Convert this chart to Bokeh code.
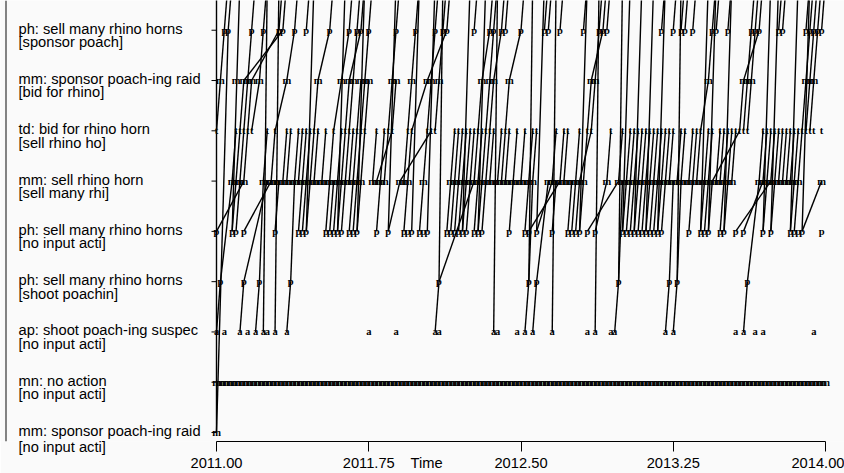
from bokeh.plotting import figure
from bokeh.models import FixedTicker, LinearAxis, Range1d
from bokeh.core.properties import value
from bokeh.embed import file_html
from bokeh.resources import INLINE

# ---------------- data ----------------
label_line1 = ["ph: sell many rhino horns", "mm: sponsor poach-ing raid", "td: bid for rhino horn",
               "mm: sell rhino horn", "ph: sell many rhino horns", "ph: sell many rhino horns",
               "ap: shoot poach-ing suspec", "mn: no action", "mm: sponsor poach-ing raid"]
label_line2 = ["[sponsor poach]", "[bid for rhino]", "[sell rhino ho]", "[sell many rhi]",
               "[no input acti]", "[shoot poachin]", "[no input acti]", "[no input acti]",
               "[no input acti]"]
row_symbol = ["p", "m", "t", "m", "p", "p", "a", "m", "m"]

# event weeks (week index since 2011.00, 52 weeks per year) for rows 1..9 (top to bottom)
weeks_r1 = [2, 3, 9, 12, 16, 17, 20, 23, 29, 34, 36, 37, 39, 46, 51, 56, 58, 59, 66, 70, 71, 73, 74,
            78, 84, 85, 88, 94, 98, 99, 100, 114, 117, 119, 120, 122, 127, 128, 131, 137, 138, 139,
            144, 145, 151, 152, 153, 154, 155]
weeks_r2 = [1, 5, 7, 8, 9, 11, 18, 26, 32, 34, 35, 37, 38, 39, 45, 46, 50, 54, 55, 57, 68, 70, 71,
            75, 96, 97, 126, 135, 136, 137, 151, 152, 153]
weeks_r3 = [0, 5, 6, 7, 8, 9, 13, 15, 18, 19, 21, 22, 23, 24, 25, 26, 28, 30, 32, 33, 34, 35, 36, 37,
            38, 41, 43, 44, 45, 49, 50, 54, 55, 56, 61, 62, 63, 64, 65, 66, 67, 68, 69, 70, 71, 73,
            74, 75, 77, 79, 81, 82, 87, 89, 90, 93, 95, 96, 101, 104, 106, 107, 108, 109, 110, 111,
            112, 113, 114, 115, 116, 117, 119, 120, 122, 123, 124, 126, 127, 129, 130, 131, 132, 133,
            134, 135, 136, 140, 141, 142, 143, 144, 145, 146, 147, 148, 149, 150, 151, 152, 153, 155]
weeks_r4 = [4, 5, 6, 7, 12, 13, 14, 15, 16, 17, 18, 19, 20, 21, 22, 23, 24, 25, 26, 27, 28, 29, 30,
            31, 32, 33, 34, 35, 36, 37, 40, 41, 42, 43, 47, 48, 49, 53, 60, 61, 62, 63, 64, 65, 66,
            67, 68, 69, 70, 71, 72, 73, 74, 75, 76, 77, 78, 79, 80, 81, 85, 86, 87, 88, 89, 90, 91,
            92, 93, 94, 100, 103, 104, 105, 106, 107, 108, 109, 110, 111, 112, 113, 114, 115, 116,
            117, 118, 119, 120, 121, 122, 123, 124, 125, 126, 127, 128, 129, 130, 131, 132, 139, 140,
            141, 142, 143, 144, 145, 146, 147, 148, 149, 155]
weeks_r5 = [0, 4, 5, 7, 15, 21, 22, 23, 28, 29, 30, 31, 32, 34, 35, 36, 41, 44, 48, 49, 50, 52, 53,
            54, 59, 60, 61, 62, 63, 64, 66, 67, 68, 75, 79, 80, 82, 86, 90, 91, 92, 93, 95, 97, 104,
            105, 106, 107, 108, 109, 110, 111, 112, 113, 114, 121, 124, 125, 126, 129, 130, 133, 135,
            140, 142, 147, 148, 149, 150, 155]
weeks_r6 = [1, 7, 11, 19, 57, 80, 82, 103, 116, 118, 136]
weeks_r7 = [0, 2, 6, 8, 10, 12, 13, 15, 18, 39, 46, 56, 57, 71, 72, 77, 79, 81, 86, 95, 97, 101, 102,
            115, 117, 133, 135, 138, 140, 153]
weeks_r8 = [0, 1, 2, 3, 4, 5, 6, 7, 8, 9, 10, 11, 12, 13, 14, 15, 16, 17, 18, 19, 20, 21, 22, 23, 24,
            25, 26, 27, 28, 29, 30, 31, 32, 33, 34, 35, 36, 37, 38, 39, 40, 41, 42, 43, 44, 45, 46,
            47, 48, 49, 50, 51, 52, 53, 54, 55, 56, 57, 58, 59, 60, 61, 62, 63, 64, 65, 66, 67, 68,
            69, 70, 71, 72, 73, 74, 75, 76, 77, 78, 79, 80, 81, 82, 83, 84, 85, 86, 87, 88, 89, 90,
            91, 92, 93, 94, 95, 96, 97, 98, 99, 100, 101, 102, 103, 104, 105, 106, 107, 108, 109, 110,
            111, 112, 113, 114, 115, 116, 117, 118, 119, 120, 121, 122, 123, 124, 125, 126, 127, 128,
            129, 130, 131, 132, 133, 134, 135, 136, 137, 138, 139, 140, 141, 142, 143, 144, 145, 146,
            147, 148, 149, 150, 151, 152, 153, 154, 155, 156]
weeks_r9 = [0]

# which rows' actions serve as input for each row
input_rows = {1: [2, 9], 2: [3], 3: [4], 4: [5, 6], 6: [7]}

# links that leave the visible rows upward (source row, source week, target week)
up_from_row = [9, 7, 7, 6, 7, 6, 7, 7, 6, 6,
               5, 5, 5, 5, 5, 5, 5, 5, 5, 5, 5, 5, 5, 5, 5, 5, 5, 5, 5, 5, 5, 5]
up_from_week = [0, 12, 15, 57, 71, 80, 86, 97, 103, 118,
                4, 23, 31, 36, 44, 50, 54, 63, 67, 82, 93, 104, 107, 110, 113, 124, 126, 130,
                140, 142, 147, 150]
up_to_week = [0, 13, 16, 58, 72, 81, 87, 98, 104, 119,
              6, 25, 33, 38, 46, 52, 56, 65, 69, 84, 95, 106, 109, 112, 115, 126, 128, 132,
              142, 144, 149, 152]

tick_values = [2011.00, 2011.75, 2012.50, 2013.25, 2014.00]
tick_labels = ["2011.00", "2011.75", "2012.50", "2013.25", "2014.00"]
x_title = "Time"

# ---------------- layout constants ----------------
W, H = 844, 473
START = 2011.0
WPY = 52.0
PXY = 203.0          # pixels per year
PXR = 50.4           # pixels per row
AXIS_X = 216         # pixel column of 2011.00
ROW9_Y = 433         # pixel row of the lowest row
FRAME_BOTTOM = 442
X0 = START - AXIS_X / PXY
X1 = X0 + W / PXY
Y0 = 1 - (FRAME_BOTTOM - ROW9_Y) / PXR
Y1 = 1 + ROW9_Y / PXR
FONT = "Liberation Sans"
FS = "14.7px"

events = [weeks_r1, weeks_r2, weeks_r3, weeks_r4, weeks_r5, weeks_r6, weeks_r7, weeks_r8, weeks_r9]


def tx(w):
    return START + w / WPY


def ry(r):
    return 10 - r


def px_to_x(px):
    return X0 + px / PXY


# ---------------- figure ----------------
p = figure(width=W, height=H, x_range=Range1d(X0, X1), y_range=Range1d(Y0, Y1),
           output_backend="svg", toolbar_location=None, y_axis_location=None,
           min_border_left=0, min_border_right=0, min_border_top=0,
           min_border_bottom=H - FRAME_BOTTOM,
           background_fill_color="#fafafa", border_fill_color="#fafafa")
p.outline_line_color = None
p.xgrid.visible = False
p.ygrid.visible = False

# x axis: visible ticks are minor ticks at the labelled values; the axis title sits on the
# tick-label line as an extra (unmarked) major tick
time_x = px_to_x(426)
ax = p.xaxis[0]
ax.ticker = FixedTicker(ticks=sorted(tick_values + [time_x]), minor_ticks=tick_values)
ov = {v: s for v, s in zip(tick_values, tick_labels)}
ov[time_x] = x_title
ax.major_label_overrides = ov
ax.bounds = (tick_values[0], tick_values[-1])
ax.major_tick_out = 10
ax.major_tick_in = 0
ax.major_tick_line_color = None
ax.minor_tick_out = 10
ax.minor_tick_in = 0
ax.minor_tick_line_color = "black"
ax.axis_line_color = "black"
ax.major_label_standoff = 3
ax.major_label_text_font = FONT
ax.major_label_text_font_size = FS
ax.major_label_text_color = "black"

# second line of the lowest row label hangs below the plotting area
lab9_x = px_to_x(61.7)
ax2 = LinearAxis(ticker=FixedTicker(ticks=[lab9_x]),
                 major_label_overrides={lab9_x: label_line2[8]})
ax2.axis_line_color = None
ax2.major_tick_line_color = None
ax2.minor_tick_line_color = None
ax2.major_tick_out = 0
ax2.major_tick_in = 0
ax2.major_label_standoff = -35
ax2.major_label_text_font = FONT
ax2.major_label_text_font_size = FS
ax2.major_label_text_color = "black"
p.add_layout(ax2, "below")

# left border line
p.segment(x0=[px_to_x(5.5)], x1=[px_to_x(5.5)], y0=[Y0], y1=[Y1],
          line_color="#333333", line_width=1.2)

# links between actions and their inputs (each input feeds at most one action)
lx0, ly0, lx1, ly1 = [], [], [], []
for r, srcs in input_rows.items():
    used = set()
    for w in events[r - 1]:
        cands = [(ws, s) for s in srcs for ws in events[s - 1]
                 if w - 10 <= ws <= w - 1 and (ws, s) not in used]
        if not cands:
            continue
        ws, s = max(cands)
        used.add((ws, s))
        lx0.append(tx(ws)); ly0.append(ry(s))
        lx1.append(tx(w)); ly1.append(ry(r))
# links leaving the top row upward
for w in weeks_r1:
    lx0.append(tx(w)); ly0.append(ry(1))
    lx1.append(tx(w + 1)); ly1.append(ry(0))
for r, w0, w1 in zip(up_from_row, up_from_week, up_to_week):
    lx0.append(tx(w0)); ly0.append(ry(r))
    lx1.append(tx(w1)); ly1.append(ry(0))

p.segment(x0=lx0, y0=ly0, x1=lx1, y1=ly1, line_color="#000000", line_width=1.4)

# y ticks
rows_y = [ry(r) for r in range(1, 10)]
p.segment(x0=[START - 5 / PXY] * 9, x1=[START] * 9, y0=rows_y, y1=rows_y,
          line_color="black", line_width=1)

# event symbols
ex, ey, et = [], [], []
for r in range(1, 10):
    for w in events[r - 1]:
        ex.append(tx(w)); ey.append(ry(r)); et.append(row_symbol[r - 1])
p.text(x=ex, y=ey, text=et, text_font=value("Liberation Serif"), text_font_size="10.5px",
       text_font_style="bold", text_align="center", text_baseline="middle",
       text_color="#000000")

# row labels
lab_x = px_to_x(18)
p.text(x=[lab_x] * 9, y=[y + 1.5 / PXR for y in rows_y], text=label_line1,
       text_font=value(FONT), text_font_size=FS, text_align="left",
       text_baseline="middle", text_color="black")
p.text(x=[lab_x] * 8, y=[y - 12 / PXR for y in rows_y[:8]], text=label_line2[:8],
       text_font=value(FONT), text_font_size=FS, text_align="left",
       text_baseline="middle", text_color="black")

open("out.html", "w").write(file_html(p, INLINE))
